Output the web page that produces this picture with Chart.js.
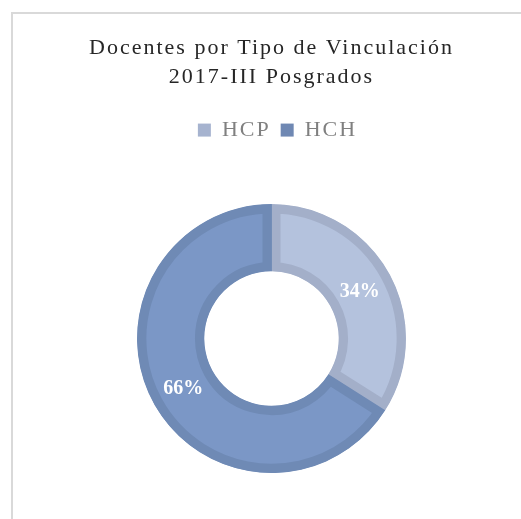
<!DOCTYPE html>
<html>
<head>
<meta charset="utf-8">
<script src="https://cdn.jsdelivr.net/npm/chart.js@4"></script>
<style>
  body { margin: 0; background: #fff; }
  #wrap { position: relative; width: 521px; height: 519px; overflow: hidden; }
  #frame { position: absolute; left: 11px; top: 12px; width: 600px; height: 600px;
           border-left: 2px solid #d9d9d9; border-top: 2px solid #d9d9d9; }
  #chartVinculacion { position: absolute; left: 0; top: 0; }
</style>
</head>
<body>
<div id="wrap">
  <div id="frame"></div>
  <canvas id="chartVinculacion" width="521" height="519"></canvas>
</div>
<script>
// ================== DATA ================ //
const TITULO = ["Docentes por Tipo de Vinculación", "2017-III Posgrados"];
const TIPOS = ["HCP", "HCH"];
const PORCENTAJES = [34, 66];

const COLOR_RELLENO = ["#b4c2dd", "#7b97c6"];
const COLOR_BORDE = ["#a3afc9", "#6f8ab5"];
const COLOR_LEYENDA = ["#a6b3cf", "#6f88b3"];

// etiquetas % dentro de cada segmento
const etiquetasPorcentaje = {
  id: "etiquetasPorcentaje",
  afterDatasetsDraw(chart) {
    const ctx = chart.ctx;
    const meta = chart.getDatasetMeta(0);
    ctx.save();
    ctx.font = "bold 20px 'Liberation Serif', 'Times New Roman', serif";
    ctx.fillStyle = "#ffffff";
    ctx.textAlign = "center";
    ctx.textBaseline = "middle";
    meta.data.forEach((arc, i) => {
      const pos = arc.tooltipPosition();
      ctx.fillText(PORCENTAJES[i] + "%", pos.x, pos.y + 2);
    });
    ctx.restore();
  },
};

// espacio extra bajo la leyenda
const espacioLeyenda = {
  id: "espacioLeyenda",
  beforeInit(chart) {
    const fitOriginal = chart.legend.fit;
    chart.legend.fit = function () {
      fitOriginal.bind(chart.legend)();
      this.height += 53;
    };
  },
};

// letras un poco separadas en titulo y leyenda
const espaciadoTitulo = {
  id: "espaciadoTitulo",
  beforeDraw(chart) {
    chart.ctx.letterSpacing = "2px";
  },
  beforeDatasetsDraw(chart) {
    chart.ctx.letterSpacing = "0px";
  },
};

const canvas = document.getElementById("chartVinculacion");

new Chart(canvas, {
  type: "doughnut",
  data: {
    labels: TIPOS,
    datasets: [
      {
        data: PORCENTAJES,
        backgroundColor: COLOR_RELLENO,
        borderColor: COLOR_BORDE,
        borderWidth: 9,
        borderAlign: "inner",
      },
    ],
  },
  options: {
    responsive: false,
    animation: false,
    cutout: "50%",
    layout: {
      padding: { left: 22, right: 0, top: 0, bottom: 46 },
    },
    plugins: {
      tooltip: { enabled: false },
      title: {
        display: true,
        text: TITULO,
        color: "#262626",
        font: { family: "'Liberation Serif', 'Times New Roman', serif", size: 22, weight: "normal", lineHeight: 1.32 },
        padding: { top: 34, bottom: 17 },
      },
      legend: {
        position: "top",
        labels: {
          color: "#808080",
          font: { family: "'Liberation Serif', 'Times New Roman', serif", size: 22 },
          boxWidth: 13,
          boxHeight: 13,
          padding: 10,
          generateLabels(chart) {
            return TIPOS.map((t, i) => ({
              text: t,
              fillStyle: COLOR_LEYENDA[i],
              strokeStyle: COLOR_LEYENDA[i],
              lineWidth: 0,
              fontColor: "#808080",
              index: i,
              hidden: false,
            }));
          },
        },
      },
    },
  },
  plugins: [espacioLeyenda, espaciadoTitulo, etiquetasPorcentaje],
});
</script>
</body>
</html>
